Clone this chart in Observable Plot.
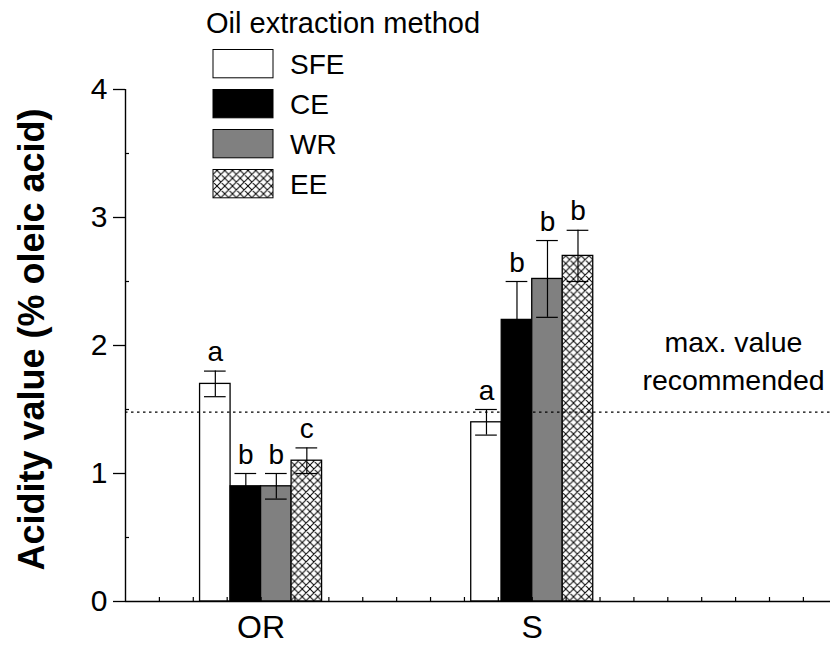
<!DOCTYPE html>
<html><head><meta charset="utf-8">
<script src="https://cdn.jsdelivr.net/npm/d3@7"></script>
<script src="https://cdn.jsdelivr.net/npm/@observablehq/plot@0.6"></script>
<style>
body{margin:0;background:#fff;font-family:"Liberation Sans",Arial,sans-serif;}
#wrap{position:relative;width:833px;height:646px;}
</style></head><body><div id="wrap"></div>
<script>
// ---- data ----
const groups = ["OR", "S"];
const methods = ["SFE", "CE", "WR", "EE"];
const valuesOR = [1.7, 0.9, 0.9, 1.1];
const errorsOR = [0.1, 0.1, 0.1, 0.1];
const lettersOR = ["a", "b", "b", "c"];
const valuesS = [1.4, 2.2, 2.52, 2.7];
const errorsS = [0.1, 0.3, 0.3, 0.2];
const lettersS = ["a", "b", "b", "b"];
const maxRecommended = 1.48;
const yTicks = [0, 1, 2, 3, 4];
const yMinorTicks = [0.5, 1.5, 2.5, 3.5];
const legendTitle = "Oil extraction method";
const yLabel = "Acidity value (% oleic acid)";
const refLabel = "max. value\nrecommended";
const fills = {SFE: "white", CE: "black", WR: "#808080", EE: "url(#xhatch)"};

// ---- layout (data units on a linear x) ----
const barW = 0.1125, cap = 0.04;
const vals = [valuesOR, valuesS], errs = [errorsOR, errorsS], lets = [lettersOR, lettersS];
const rows = groups.flatMap((g, gi) => methods.map((m, mi) => {
  const x1 = gi + (mi - 2) * barW;
  return {group: g, method: m, value: vals[gi][mi], err: errs[gi][mi], letter: lets[gi][mi],
          x1, x2: x1 + barW, xc: x1 + barW / 2};
}));
const minorX = d3.range(-3, 17).map(k => k / 8);

const wrap = document.getElementById("wrap");

// legend + pattern defs
const P = 7.75;
const leg = d3.create("svg").attr("width", 833).attr("height", 646)
  .style("position", "absolute").style("left", "0px").style("top", "0px")
  .style("pointer-events", "none").style("font-family", "'Liberation Sans', Arial, sans-serif");
const pat = leg.append("defs").append("pattern").attr("id", "xhatch")
  .attr("patternUnits", "userSpaceOnUse").attr("width", P).attr("height", P);
pat.append("rect").attr("width", P).attr("height", P).attr("fill", "white");
pat.append("path").attr("d", `M0,0L${P},${P}M${P},0L0,${P}M-1,${P-1}L1,${P+1}M${P-1},-1L${P+1},1M-1,1L1,-1M${P-1},${P+1}L${P+1},${P-1}`)
  .attr("stroke", "black").attr("stroke-width", 1);

const plot = Plot.plot({
  width: 833, height: 646,
  marginLeft: 125, marginRight: 3, marginTop: 89, marginBottom: 45,
  style: {fontFamily: "'Liberation Sans', Arial, sans-serif", background: "transparent", color: "black"},
  x: {type: "linear", domain: [-0.5, 2.1], axis: null},
  y: {domain: [0, 4], axis: null},
  marks: [
    ...methods.map(m => Plot.rectY(rows.filter(r => r.method === m), {
      x1: "x1", x2: "x2", y1: 0, y2: "value", fill: fills[m], stroke: "black", strokeWidth: 1.3})),
    Plot.ruleX(rows, {x: "xc", y1: d => d.value - d.err, y2: d => d.value + d.err, stroke: "black", strokeWidth: 1.2}),
    Plot.ruleY(rows, {y: d => d.value + d.err, x1: d => d.xc - cap, x2: d => d.xc + cap, stroke: "black", strokeWidth: 1.2}),
    Plot.ruleY(rows, {y: d => d.value - d.err, x1: d => d.xc - cap, x2: d => d.xc + cap, stroke: "black", strokeWidth: 1.2}),
    Plot.text(rows, {x: "xc", y: d => d.value + d.err, text: "letter", dy: -10, lineAnchor: "bottom", fontSize: 28, fill: "black"}),
    Plot.ruleY([maxRecommended], {stroke: "black", strokeWidth: 1.2, strokeDasharray: "2.5,3.5"}),
    Plot.text([maxRecommended], {y: d => d, text: () => refLabel, frameAnchor: "right", dx: -97, dy: -22,
      textAnchor: "middle", lineAnchor: "bottom", lineHeight: 1.32, fontSize: 28.5, fill: "black"}),
    Plot.axisY(yTicks, {anchor: "left", tickSize: 12, tickPadding: 6, fontSize: 30, label: null, tickFormat: d => String(d), strokeWidth: 1.3}),
    Plot.axisY(yMinorTicks, {anchor: "left", tickSize: -4, tickFormat: () => "", label: null, strokeWidth: 1.2}),
    Plot.axisX([0, 1], {anchor: "bottom", tickSize: 0, tickPadding: 14, fontSize: 32, label: null, tickFormat: i => groups[i]}),
    Plot.axisX(minorX, {anchor: "bottom", tickSize: -4, tickFormat: () => "", label: null, strokeWidth: 1.2}),
    Plot.ruleY([0], {stroke: "black", strokeWidth: 1.4}),
    Plot.ruleX([-0.5], {y1: 0, y2: 4, stroke: "black", strokeWidth: 1.4}),
    Plot.text([yLabel], {text: d => d, frameAnchor: "left", dx: -93, dy: -6, rotate: -90, fontSize: 36,
      fontWeight: "bold", textAnchor: "middle", lineAnchor: "middle", fill: "black"})
  ]
});
wrap.appendChild(plot);

leg.append("text").attr("x", 206).attr("y", 33).attr("font-size", 29).attr("fill", "black").text(legendTitle);
methods.forEach((m, i) => {
  const top = 49.5 + i * 40;
  leg.append("rect").attr("x", 213).attr("y", top).attr("width", 60).attr("height", 28.3)
    .attr("fill", fills[m]).attr("stroke", "black").attr("stroke-width", 1);
  leg.append("text").attr("x", 290).attr("y", top + 14 + 10).attr("font-size", 28).attr("fill", "black").text(m);
});
wrap.appendChild(leg.node());
</script></body></html>
